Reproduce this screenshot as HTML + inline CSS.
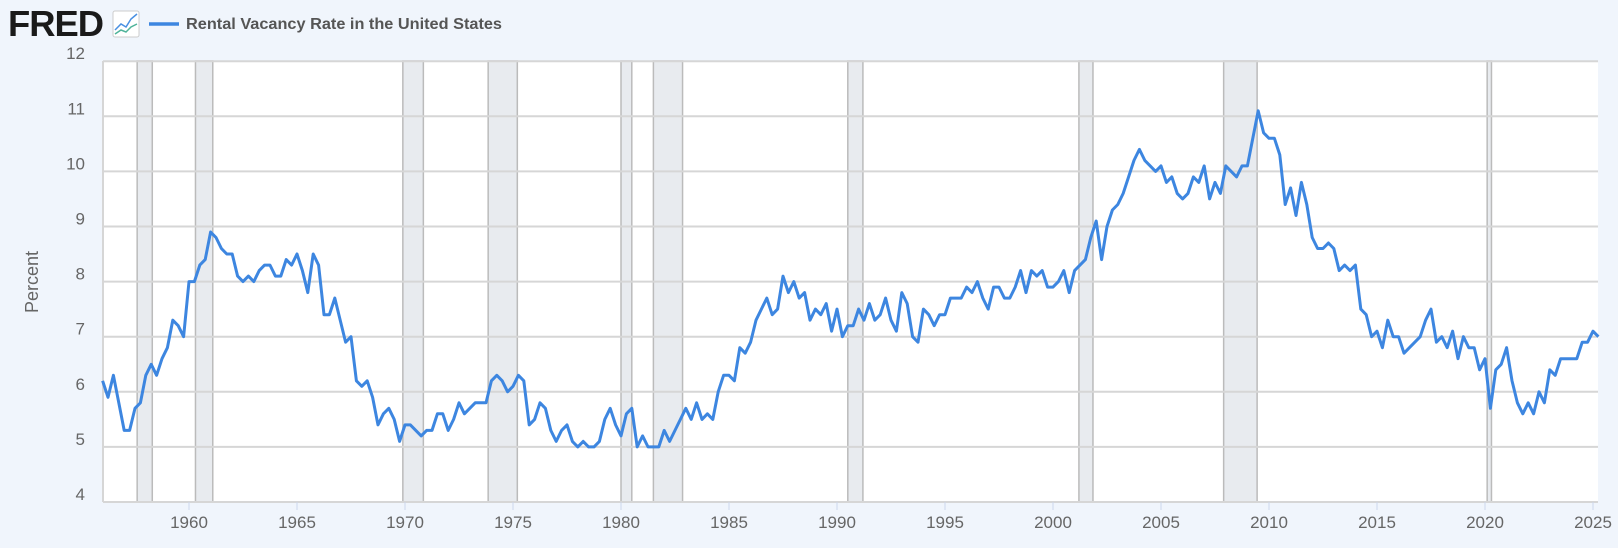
<!DOCTYPE html>
<html><head><meta charset="utf-8"><style>
html,body{margin:0;padding:0;background:#f0f5fc;width:1618px;height:548px;overflow:hidden;font-family:"Liberation Sans",sans-serif}
</style></head><body>
<svg id="s" width="1618" height="548" xmlns="http://www.w3.org/2000/svg" style="position:absolute;left:0;top:0">
<text x="8" y="36" font-family="Liberation Sans" font-weight="bold" font-size="36" fill="#1a1a1a" letter-spacing="-1" textLength="95" lengthAdjust="spacingAndGlyphs">FRED</text>
<rect x="113" y="11" width="26" height="26" rx="2" fill="#fff" stroke="#ccc"/>
<polyline points="115,30 121,24 126,27 131,19 137,14" fill="none" stroke="#4a90e2" stroke-width="1.5"/>
<polyline points="115,34 121,30 126,32 131,27 137,24" fill="none" stroke="#4fb39a" stroke-width="1.5"/>
<line x1="149" y1="24" x2="179" y2="24" stroke="#3d86e0" stroke-width="3.5"/>
<text x="186" y="29" font-weight="bold" font-size="15.5" fill="#555" textLength="316" lengthAdjust="spacingAndGlyphs">Rental Vacancy Rate in the United States</text>
<rect x="103" y="61" width="1495" height="441" fill="#fff"/>
<g id="rec"></g>
<g id="grid"></g>
<text transform="translate(38,282) rotate(-90)" text-anchor="middle" font-size="18" fill="#666">Percent</text>
<g id="lab" font-size="17" fill="#666"></g>
<path id="line" fill="none" stroke="#3d86e0" stroke-width="3" stroke-linejoin="round"/>
</svg>
<script>
const X0=102.6,PX=21.6,Y4=502,PY=55.1;
const xy=y=>X0+(y-1956)*PX, yv=v=>Y4-(v-4)*PY;
let g='';
const recs=[[1957.6,1958.3],[1960.3,1961.1],[1969.9,1970.85],[1973.85,1975.2],[1980.0,1980.5],[1981.5,1982.85],[1990.5,1991.2],[2001.2,2001.85],[2007.9,2009.45],[2020.1,2020.3]];
let r='';
for(const [a,b] of recs){r+=`<rect x="${xy(a)}" y="61" width="${xy(b)-xy(a)}" height="441" fill="#e8ebef" stroke="#bbb" stroke-width="1.5"/>`;}
document.getElementById('rec').innerHTML=r;
for(let v=4;v<=12;v++){g+=`<line x1="103" x2="1598" y1="${yv(v)}" y2="${yv(v)}" stroke="#d6d6d6" stroke-width="2"/>`;}
g+=`<line x1="103" x2="103" y1="61" y2="502" stroke="#d6d6d6" stroke-width="2"/>`;
document.getElementById('grid').innerHTML=g;
let l='';
for(let v=4;v<=12;v++)l+=`<text x="85" y="${yv(v)-2}" text-anchor="end">${v}</text>`;
for(let y=1960;y<=2025;y+=5){l+=`<line x1="${xy(y)}" x2="${xy(y)}" y1="502" y2="510" stroke="#ccd6eb"/><text x="${xy(y)}" y="528" text-anchor="middle">${y}</text>`;}
document.getElementById('lab').innerHTML=l;
const d=[6.2,5.9,6.3,5.8,5.3,5.3,5.7,5.8,6.3,6.5,6.3,6.6,6.8,7.3,7.2,7.0,8.0,8.0,8.3,8.4,8.9,8.8,8.6,8.5,8.5,8.1,8.0,8.1,8.0,8.2,8.3,8.3,8.1,8.1,8.4,8.3,8.5,8.2,7.8,8.5,8.3,7.4,7.4,7.7,7.3,6.9,7.0,6.2,6.1,6.2,5.9,5.4,5.6,5.7,5.5,5.1,5.4,5.4,5.3,5.2,5.3,5.3,5.6,5.6,5.3,5.5,5.8,5.6,5.7,5.8,5.8,5.8,6.2,6.3,6.2,6.0,6.1,6.3,6.2,5.4,5.5,5.8,5.7,5.3,5.1,5.3,5.4,5.1,5.0,5.1,5.0,5.0,5.1,5.5,5.7,5.4,5.2,5.6,5.7,5.0,5.2,5.0,5.0,5.0,5.3,5.1,5.3,5.5,5.7,5.5,5.8,5.5,5.6,5.5,6.0,6.3,6.3,6.2,6.8,6.7,6.9,7.3,7.5,7.7,7.4,7.5,8.1,7.8,8.0,7.7,7.8,7.3,7.5,7.4,7.6,7.1,7.5,7.0,7.2,7.2,7.5,7.3,7.6,7.3,7.4,7.7,7.3,7.1,7.8,7.6,7.0,6.9,7.5,7.4,7.2,7.4,7.4,7.7,7.7,7.7,7.9,7.8,8.0,7.7,7.5,7.9,7.9,7.7,7.7,7.9,8.2,7.8,8.2,8.1,8.2,7.9,7.9,8.0,8.2,7.8,8.2,8.3,8.4,8.8,9.1,8.4,9.0,9.3,9.4,9.6,9.9,10.2,10.4,10.2,10.1,10.0,10.1,9.8,9.9,9.6,9.5,9.6,9.9,9.8,10.1,9.5,9.8,9.6,10.1,10.0,9.9,10.1,10.1,10.6,11.1,10.7,10.6,10.6,10.3,9.4,9.7,9.2,9.8,9.4,8.8,8.6,8.6,8.7,8.6,8.2,8.3,8.2,8.3,7.5,7.4,7.0,7.1,6.8,7.3,7.0,7.0,6.7,6.8,6.9,7.0,7.3,7.5,6.9,7.0,6.8,7.1,6.6,7.0,6.8,6.8,6.4,6.6,5.7,6.4,6.5,6.8,6.2,5.8,5.6,5.8,5.6,6.0,5.8,6.4,6.3,6.6,6.6,6.6,6.6,6.9,6.9,7.1,7.0];
let p='';d.forEach((v,i)=>{p+=(i?'L':'M')+(X0+i*5.4).toFixed(1)+','+yv(v).toFixed(1);});
document.getElementById('line').setAttribute('d',p);
</script>
</body></html>
